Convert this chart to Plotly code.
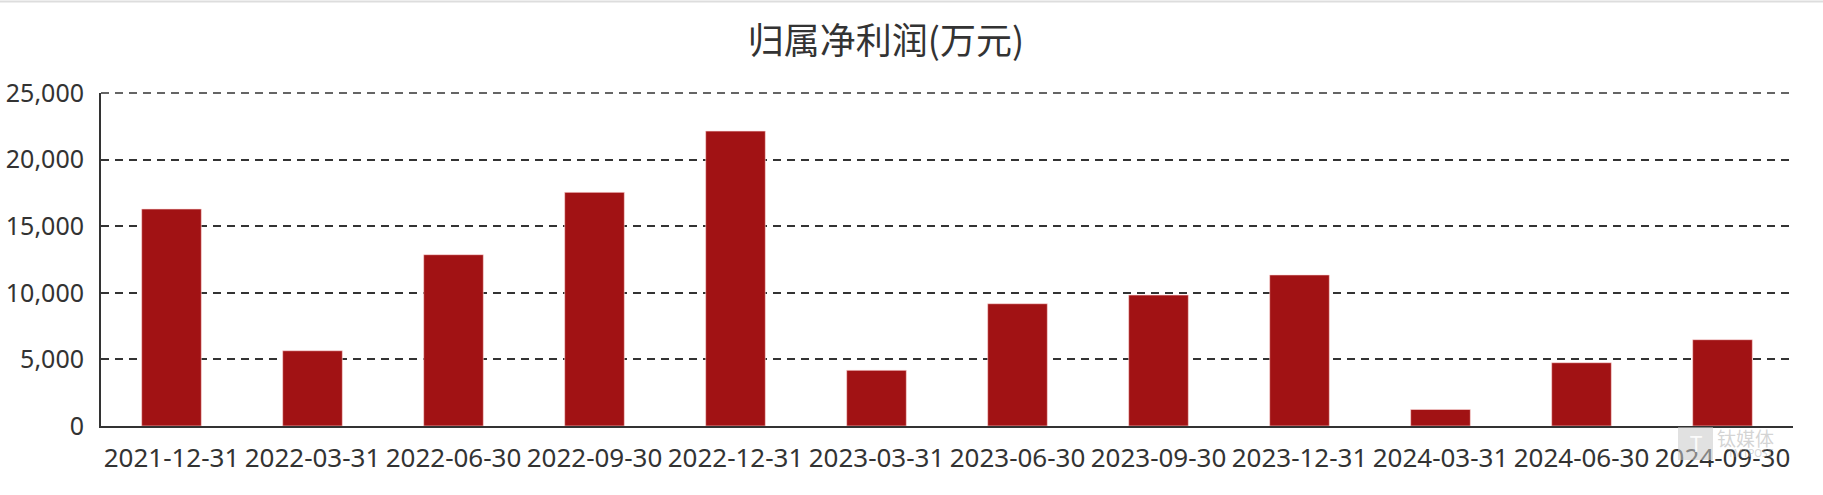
import plotly.graph_objects as go

categories = ["2021-12-31", "2022-03-31", "2022-06-30", "2022-09-30", "2022-12-31", "2023-03-31",
              "2023-06-30", "2023-09-30", "2023-12-31", "2024-03-31", "2024-06-30", "2024-09-30"]
net_profit = [16290, 5650, 12860, 17540, 22140, 4180, 9180, 9830, 11340, 1240, 4750, 6480]
y_ticks = [0, 5000, 10000, 15000, 20000, 25000]
y_tick_labels = ["0", "5,000", "10,000", "15,000", "20,000", "25,000"]
title_text = "归属净利润(万元)"
watermark_text = "钛媒体"
watermark_sub = "TMTPOST"

W, H = 1823, 495
ml, mr, mt, mb = 101, 30, 92.7, 69
pw = W - ml - mr
ph = H - mt - mb


def px_x(x):
    return (x - ml) / pw


def px_y(y):
    return (H - mb - y) / ph


fig = go.Figure()
fig.add_trace(go.Bar(
    x=categories, y=net_profit,
    marker=dict(color="#A11214", line=dict(color="rgba(255,220,220,0.6)", width=1)),
    hoverinfo="x+y",
))

shapes = [
    # thin page border line at the very top
    dict(type="line", xref="paper", yref="paper",
         x0=px_x(0), x1=px_x(W), y0=px_y(1), y1=px_y(1),
         line=dict(color="#dddddd", width=2)),
    # top gridline (at range edge)
    dict(type="line", xref="paper", yref="paper", x0=0, x1=1, y0=1, y1=1,
         line=dict(color="#333333", width=1.6, dash="8px,6px"), layer="below"),
    # watermark logo box
    dict(type="rect", xref="paper", yref="paper",
         x0=px_x(1678), x1=px_x(1713), y0=px_y(460), y1=px_y(427),
         fillcolor="rgba(200,200,200,0.55)", line=dict(width=0), layer="above"),
]

fig.update_layout(
    width=W, height=H,
    margin=dict(l=ml, r=mr, t=mt, b=mb, pad=0, autoexpand=False),
    paper_bgcolor="white", plot_bgcolor="white",
    showlegend=False,
    bargap=0.577,
    font=dict(family="Noto Sans, Noto Sans CJK SC, sans-serif", color="#333333", size=25),
    title=dict(text=title_text, x=886 / W, xanchor="center", xref="container",
               y=1 - 41 / H, yanchor="middle", yref="container", automargin=False,
               font=dict(family="Noto Sans CJK SC, sans-serif", size=36, color="#333333")),
    xaxis=dict(
        type="category", showgrid=False, zeroline=False, automargin=False,
        showline=True, linecolor="#333333", linewidth=2,
        ticks="", tickfont=dict(size=26, color="#333333"),
        ticklabelstandoff=8,
    ),
    yaxis=dict(
        range=[0, 25000], tickvals=y_ticks, ticktext=y_tick_labels, automargin=False,
        showgrid=True, gridcolor="#333333", gridwidth=1.6, griddash="8px,6px",
        zeroline=False, showline=True, linecolor="#333333", linewidth=2,
        ticks="", tickfont=dict(size=25, color="#333333"),
        ticklabelstandoff=10,
    ),
    shapes=shapes,
    annotations=[
        dict(text="T", xref="paper", yref="paper", x=px_x(1695.5), y=px_y(443),
             xanchor="center", yanchor="middle", showarrow=False,
             font=dict(size=22, color="rgba(255,255,255,0.9)", family="Noto Sans"),),
        dict(text=watermark_text, xref="paper", yref="paper",
             x=px_x(1776), y=px_y(438), xanchor="right", yanchor="middle",
             showarrow=False,
             font=dict(size=19, color="rgba(170,170,170,0.5)", family="Noto Sans CJK SC")),
        dict(text=watermark_sub, xref="paper", yref="paper",
             x=px_x(1776), y=px_y(453), xanchor="right", yanchor="middle",
             showarrow=False,
             font=dict(size=10, color="rgba(170,170,170,0.5)", family="Noto Sans")),
    ],
)

fig.write_html("out.html", config={"displayModeBar": False},
               post_script="document.body.style.margin='0';")
